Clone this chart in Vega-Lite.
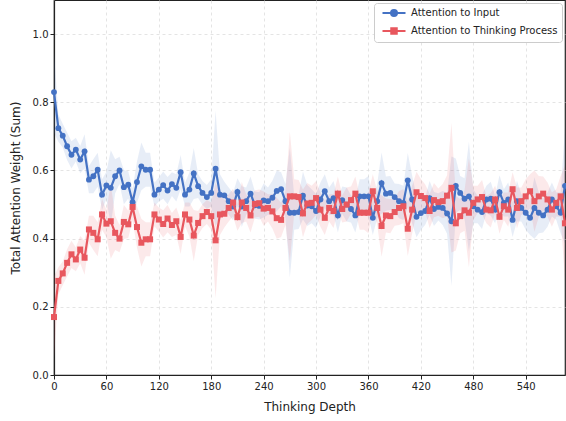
{
  "$schema": "https://vega.github.io/schema/vega-lite/v6.json",
  "width": 511,
  "height": 375,
  "autosize": {"type": "none"},
  "padding": {"left": 54, "top": 0, "right": 1, "bottom": 46},
  "background": "white",
  "config": {
    "view": {"stroke": "#222222", "strokeWidth": 1.2},
    "font": "DejaVu Sans"
  },
  "data": {"values": [
    {"x":0,"b":0.830,"r":0.170,"s":0.12},
    {"x":5,"b":0.724,"r":0.276,"s":0.04},
    {"x":10,"b":0.702,"r":0.298,"s":0.035},
    {"x":15,"b":0.671,"r":0.329,"s":0.04},
    {"x":20,"b":0.646,"r":0.354,"s":0.04},
    {"x":25,"b":0.661,"r":0.339,"s":0.035},
    {"x":30,"b":0.632,"r":0.368,"s":0.04},
    {"x":35,"b":0.656,"r":0.344,"s":0.05},
    {"x":40,"b":0.573,"r":0.427,"s":0.04},
    {"x":45,"b":0.583,"r":0.417,"s":0.05},
    {"x":50,"b":0.602,"r":0.398,"s":0.05},
    {"x":55,"b":0.529,"r":0.471,"s":0.045},
    {"x":60,"b":0.556,"r":0.444,"s":0.04},
    {"x":65,"b":0.549,"r":0.451,"s":0.11},
    {"x":70,"b":0.583,"r":0.417,"s":0.05},
    {"x":75,"b":0.600,"r":0.400,"s":0.04},
    {"x":80,"b":0.551,"r":0.449,"s":0.05},
    {"x":85,"b":0.558,"r":0.442,"s":0.04},
    {"x":90,"b":0.507,"r":0.493,"s":0.04},
    {"x":95,"b":0.566,"r":0.434,"s":0.06},
    {"x":100,"b":0.612,"r":0.388,"s":0.07},
    {"x":105,"b":0.602,"r":0.398,"s":0.05},
    {"x":110,"b":0.602,"r":0.398,"s":0.05},
    {"x":115,"b":0.529,"r":0.471,"s":0.035},
    {"x":120,"b":0.544,"r":0.456,"s":0.035},
    {"x":125,"b":0.557,"r":0.443,"s":0.04},
    {"x":130,"b":0.541,"r":0.459,"s":0.04},
    {"x":135,"b":0.560,"r":0.440,"s":0.035},
    {"x":140,"b":0.549,"r":0.451,"s":0.04},
    {"x":145,"b":0.595,"r":0.405,"s":0.05},
    {"x":150,"b":0.529,"r":0.471,"s":0.035},
    {"x":155,"b":0.544,"r":0.456,"s":0.05},
    {"x":160,"b":0.591,"r":0.409,"s":0.075},
    {"x":165,"b":0.554,"r":0.446,"s":0.035},
    {"x":170,"b":0.534,"r":0.466,"s":0.035},
    {"x":175,"b":0.522,"r":0.478,"s":0.035},
    {"x":180,"b":0.534,"r":0.466,"s":0.04},
    {"x":185,"b":0.605,"r":0.395,"s":0.17},
    {"x":190,"b":0.529,"r":0.471,"s":0.06},
    {"x":195,"b":0.527,"r":0.473,"s":0.04},
    {"x":200,"b":0.510,"r":0.490,"s":0.04},
    {"x":205,"b":0.494,"r":0.506,"s":0.04},
    {"x":210,"b":0.537,"r":0.463,"s":0.04},
    {"x":215,"b":0.494,"r":0.506,"s":0.06},
    {"x":220,"b":0.510,"r":0.490,"s":0.04},
    {"x":225,"b":0.532,"r":0.468,"s":0.05},
    {"x":230,"b":0.498,"r":0.502,"s":0.04},
    {"x":235,"b":0.496,"r":0.504,"s":0.04},
    {"x":240,"b":0.512,"r":0.488,"s":0.05},
    {"x":245,"b":0.510,"r":0.490,"s":0.04},
    {"x":250,"b":0.520,"r":0.480,"s":0.05},
    {"x":255,"b":0.540,"r":0.460,"s":0.06},
    {"x":260,"b":0.545,"r":0.455,"s":0.05},
    {"x":265,"b":0.510,"r":0.490,"s":0.05},
    {"x":270,"b":0.476,"r":0.524,"s":0.19},
    {"x":275,"b":0.476,"r":0.524,"s":0.05},
    {"x":280,"b":0.478,"r":0.522,"s":0.05},
    {"x":285,"b":0.526,"r":0.474,"s":0.07},
    {"x":290,"b":0.497,"r":0.503,"s":0.06},
    {"x":295,"b":0.495,"r":0.505,"s":0.05},
    {"x":300,"b":0.481,"r":0.519,"s":0.05},
    {"x":305,"b":0.515,"r":0.485,"s":0.05},
    {"x":310,"b":0.539,"r":0.461,"s":0.05},
    {"x":315,"b":0.510,"r":0.490,"s":0.04},
    {"x":320,"b":0.519,"r":0.481,"s":0.05},
    {"x":325,"b":0.468,"r":0.532,"s":0.05},
    {"x":330,"b":0.513,"r":0.487,"s":0.04},
    {"x":335,"b":0.500,"r":0.500,"s":0.05},
    {"x":340,"b":0.487,"r":0.513,"s":0.04},
    {"x":345,"b":0.468,"r":0.532,"s":0.05},
    {"x":350,"b":0.524,"r":0.476,"s":0.05},
    {"x":355,"b":0.524,"r":0.476,"s":0.05},
    {"x":360,"b":0.524,"r":0.476,"s":0.06},
    {"x":365,"b":0.461,"r":0.539,"s":0.05},
    {"x":370,"b":0.510,"r":0.490,"s":0.05},
    {"x":375,"b":0.563,"r":0.437,"s":0.09},
    {"x":380,"b":0.532,"r":0.468,"s":0.05},
    {"x":385,"b":0.534,"r":0.466,"s":0.05},
    {"x":390,"b":0.522,"r":0.478,"s":0.04},
    {"x":395,"b":0.510,"r":0.490,"s":0.05},
    {"x":400,"b":0.505,"r":0.495,"s":0.05},
    {"x":405,"b":0.571,"r":0.429,"s":0.08},
    {"x":410,"b":0.515,"r":0.485,"s":0.07},
    {"x":415,"b":0.464,"r":0.536,"s":0.06},
    {"x":420,"b":0.475,"r":0.525,"s":0.05},
    {"x":425,"b":0.481,"r":0.519,"s":0.04},
    {"x":430,"b":0.519,"r":0.481,"s":0.05},
    {"x":435,"b":0.487,"r":0.513,"s":0.05},
    {"x":440,"b":0.493,"r":0.507,"s":0.04},
    {"x":445,"b":0.490,"r":0.510,"s":0.05},
    {"x":450,"b":0.474,"r":0.526,"s":0.06},
    {"x":455,"b":0.451,"r":0.549,"s":0.19},
    {"x":460,"b":0.555,"r":0.445,"s":0.08},
    {"x":465,"b":0.534,"r":0.466,"s":0.05},
    {"x":470,"b":0.517,"r":0.483,"s":0.06},
    {"x":475,"b":0.524,"r":0.476,"s":0.16},
    {"x":480,"b":0.495,"r":0.505,"s":0.05},
    {"x":485,"b":0.485,"r":0.515,"s":0.04},
    {"x":490,"b":0.478,"r":0.522,"s":0.05},
    {"x":495,"b":0.515,"r":0.485,"s":0.04},
    {"x":500,"b":0.517,"r":0.483,"s":0.05},
    {"x":505,"b":0.485,"r":0.515,"s":0.04},
    {"x":510,"b":0.536,"r":0.464,"s":0.05},
    {"x":515,"b":0.505,"r":0.495,"s":0.04},
    {"x":520,"b":0.515,"r":0.485,"s":0.05},
    {"x":525,"b":0.455,"r":0.545,"s":0.05},
    {"x":530,"b":0.510,"r":0.490,"s":0.06},
    {"x":535,"b":0.490,"r":0.510,"s":0.04},
    {"x":540,"b":0.476,"r":0.524,"s":0.05},
    {"x":545,"b":0.461,"r":0.539,"s":0.05},
    {"x":550,"b":0.490,"r":0.510,"s":0.09},
    {"x":555,"b":0.476,"r":0.524,"s":0.06},
    {"x":560,"b":0.468,"r":0.532,"s":0.05},
    {"x":565,"b":0.485,"r":0.515,"s":0.05},
    {"x":570,"b":0.515,"r":0.485,"s":0.05},
    {"x":575,"b":0.495,"r":0.505,"s":0.04},
    {"x":580,"b":0.476,"r":0.524,"s":0.06},
    {"x":585,"b":0.555,"r":0.445,"s":0.17}
  ]},
  "encoding": {
    "x": {
      "field": "x", "type": "quantitative",
      "scale": {"domain": [0, 585], "nice": false, "zero": false},
      "axis": {
        "title": "Thinking Depth",
        "values": [0, 60, 120, 180, 240, 300, 360, 420, 480, 540],
        "format": "d",
        "labelFlush": false,
        "grid": true, "gridDash": [3, 3], "gridColor": "#dddddd", "gridWidth": 0.8,
        "domainColor": "#222222", "domainWidth": 1.2,
        "tickColor": "#222222", "tickSize": 4, "tickWidth": 1,
        "labelFont": "DejaVu Sans", "labelFontSize": 10, "labelColor": "#222222", "labelPadding": 2,
        "titleFont": "DejaVu Sans", "titleFontSize": 12, "titleFontWeight": "normal", "titleColor": "#222222", "titlePadding": 10
      }
    }
  },
  "layer": [
    {
      "mark": {"type": "errorband", "color": "#4472c4", "opacity": 0.13},
      "encoding": {
        "y": {"field": "b", "type": "quantitative", "title": "Total Attention Weight (Sum)",
          "scale": {"domain": [0, 1.1], "nice": false},
          "axis": {
            "title": "Total Attention Weight (Sum)",
            "values": [0, 0.2, 0.4, 0.6, 0.8, 1.0],
            "format": ".1f",
            "labelFlush": false,
            "grid": true, "gridDash": [3, 3], "gridColor": "#dddddd", "gridWidth": 0.8,
            "domainColor": "#222222", "domainWidth": 1.2,
            "tickColor": "#222222", "tickSize": 4, "tickWidth": 1,
            "labelFont": "DejaVu Sans", "labelFontSize": 10, "labelColor": "#222222", "labelPadding": 2,
            "titleFont": "DejaVu Sans", "titleFontSize": 12, "titleFontWeight": "normal", "titleColor": "#222222", "titlePadding": 10
          }},
        "yError": {"field": "s"}
      }
    },
    {
      "mark": {"type": "errorband", "color": "#e8575e", "opacity": 0.13},
      "encoding": {
        "y": {"field": "r", "type": "quantitative", "title": "Total Attention Weight (Sum)"},
        "yError": {"field": "s"}
      }
    },
    {
      "mark": {"type": "line", "strokeWidth": 2.2, "point": {"filled": true, "size": 34, "shape": "circle"}},
      "encoding": {
        "y": {"field": "b", "type": "quantitative", "title": "Total Attention Weight (Sum)"},
        "color": {
          "datum": "Attention to Input",
          "type": "nominal",
          "scale": {"domain": ["Attention to Input", "Attention to Thinking Process"], "range": ["#4472c4", "#e8575e"]},
          "legend": {
            "title": null,
            "orient": "top-right",
            "offset": 3,
            "fillColor": "white",
            "strokeColor": "#cccccc",
            "cornerRadius": 3,
            "padding": 4,
            "labelFont": "DejaVu Sans",
            "labelFontSize": 10,
            "labelColor": "#222222",
            "labelOffset": 11,
            "symbolSize": 100,
            "symbolOffset": 10,
            "symbolStrokeWidth": 2,
            "rowPadding": 4,
            "encode": {
              "symbols": {
                "update": {
                  "shape": {"signal": "datum.value === 'Attention to Input' ? 'M-2.3,0H2.3M-0.6,0A0.6,0.6,0,1,1,0.6,0A0.6,0.6,0,1,1,-0.6,0Z' : 'M-2.3,0H2.3M-0.55,-0.55H0.55V0.55H-0.55Z'"},
                  "fill": {"signal": "datum.value === 'Attention to Input' ? '#4472c4' : '#e8575e'"},
                  "stroke": {"signal": "datum.value === 'Attention to Input' ? '#4472c4' : '#e8575e'"},
                  "strokeWidth": {"value": 2},
                  "opacity": {"value": 1}
                }
              }
            }
          }
        }
      }
    },
    {
      "mark": {"type": "line", "strokeWidth": 2.2, "point": {"filled": true, "size": 36, "shape": "square"}},
      "encoding": {
        "y": {"field": "r", "type": "quantitative", "title": "Total Attention Weight (Sum)"},
        "color": {"datum": "Attention to Thinking Process", "type": "nominal"}
      }
    }
  ]
}
